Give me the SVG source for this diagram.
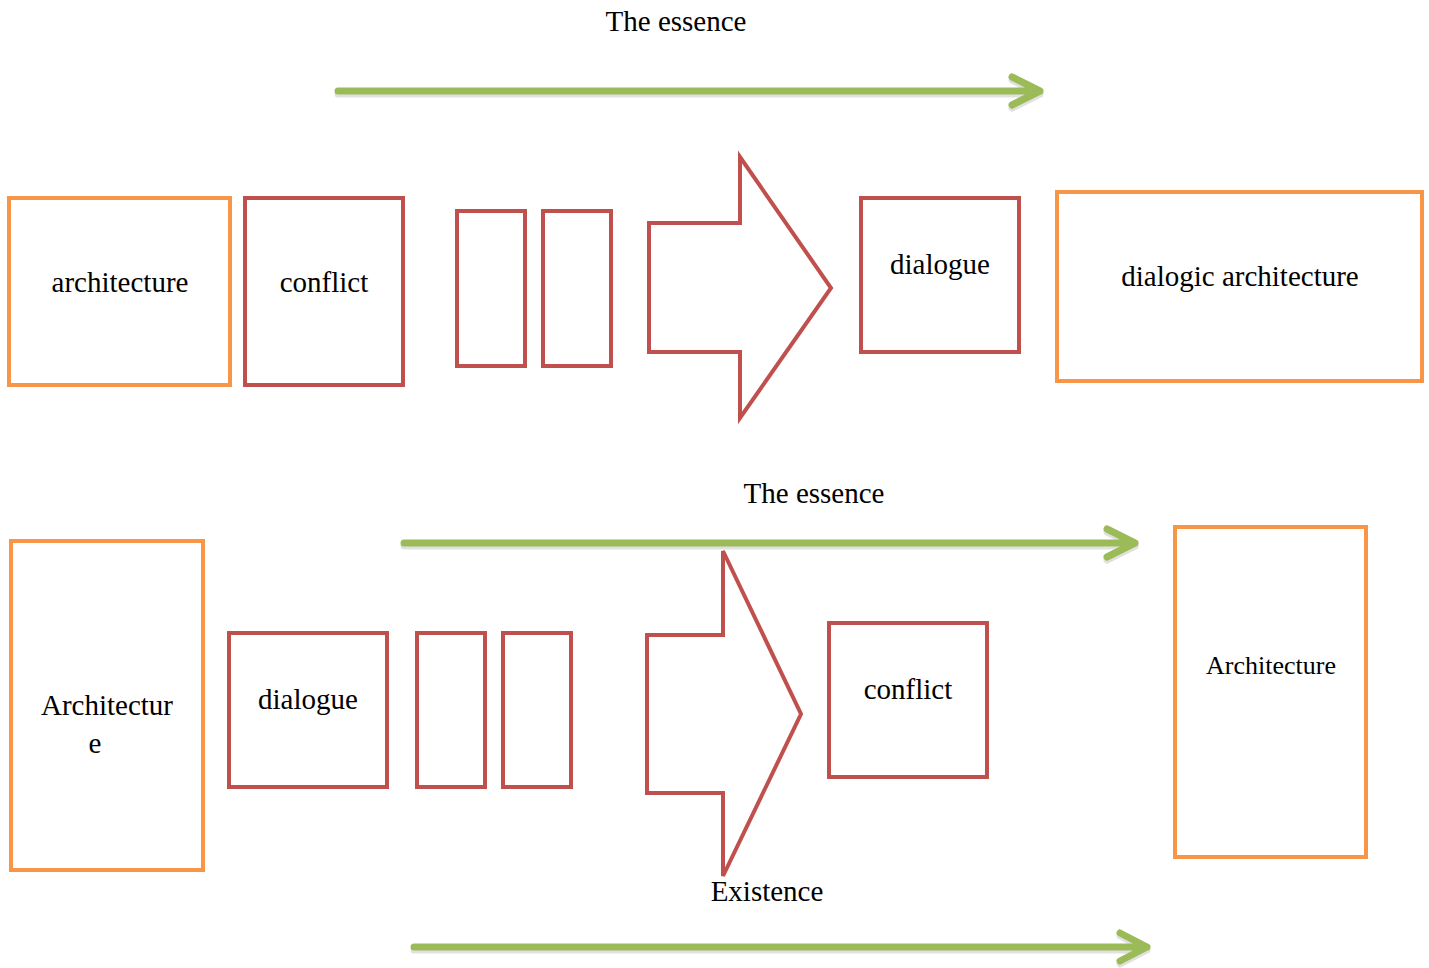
<svg xmlns="http://www.w3.org/2000/svg" width="1429" height="968" viewBox="0 0 1429 968">
<defs>
<style>
.o{fill:#fff;stroke:#f79646;stroke-width:4}
.r{fill:#fff;stroke:#c0504d;stroke-width:4}
.g{fill:none;stroke:#9bbb59;stroke-width:7;stroke-linecap:round;stroke-linejoin:round}
.gs{fill:none;stroke:#000;stroke-opacity:0.12;stroke-width:7;stroke-linecap:round;stroke-linejoin:round}
text{font-family:"Liberation Serif","Times New Roman",serif;font-size:29px;fill:#000;text-anchor:middle}
</style>
</defs>
<rect width="1429" height="968" fill="#fff"/>
<g id="connectors">
<g transform="translate(0,3)">
<path class="gs" d="M338 91H1040M1012 77L1040 91L1012 105"/>
<path class="gs" d="M404 543H1135M1107 529L1135 543L1107 557"/>
<path class="gs" d="M414 947H1147M1120 933L1147 947L1120 961"/>
</g>
<path class="g" d="M338 91H1040M1012 77L1040 91L1012 105"/>
<path class="g" d="M404 543H1135M1107 529L1135 543L1107 557"/>
<path class="g" d="M414 947H1147M1120 933L1147 947L1120 961"/>
<polygon class="r" points="649,223 740,223 740,157 831,288 740,418 740,352 649,352"/>
<polygon class="r" points="647,635 723,635 723,551 801,714 723,876 723,793 647,793"/>
</g>
<g id="label-essence-top"><text x="676" y="31">The essence</text></g>
<g id="label-essence-mid"><text x="814" y="503">The essence</text></g>
<g id="label-existence"><text x="767" y="901">Existence</text></g>
<g id="n-architecture"><rect class="o" x="9" y="198" width="221" height="187"/><text x="120" y="292">architecture</text></g>
<g id="n-conflict"><rect class="r" x="245" y="198" width="158" height="187"/><text x="324" y="292">conflict</text></g>
<g id="n-s1"><rect class="r" x="457" y="211" width="68" height="155"/></g>
<g id="n-s2"><rect class="r" x="543" y="211" width="68" height="155"/></g>
<g id="n-dialogue"><rect class="r" x="861" y="198" width="158" height="154"/><text x="940" y="274">dialogue</text></g>
<g id="n-dialogic"><rect class="o" x="1057" y="192" width="365" height="189"/><text x="1240" y="286">dialogic architecture</text></g>
<g id="n-Architecture-left"><rect class="o" x="11" y="541" width="192" height="329"/><text x="107" y="715">Architectur</text><text x="95" y="753">e</text></g>
<g id="n-dialogue2"><rect class="r" x="229" y="633" width="158" height="154"/><text x="308" y="709">dialogue</text></g>
<g id="n-s3"><rect class="r" x="417" y="633" width="68" height="154"/></g>
<g id="n-s4"><rect class="r" x="503" y="633" width="68" height="154"/></g>
<g id="n-conflict2"><rect class="r" x="829" y="623" width="158" height="154"/><text x="908" y="699">conflict</text></g>
<g id="n-Architecture-right"><rect class="o" x="1175" y="527" width="191" height="330"/><text x="1271" y="674" style="font-size:26px">Architecture</text></g>
</svg>
